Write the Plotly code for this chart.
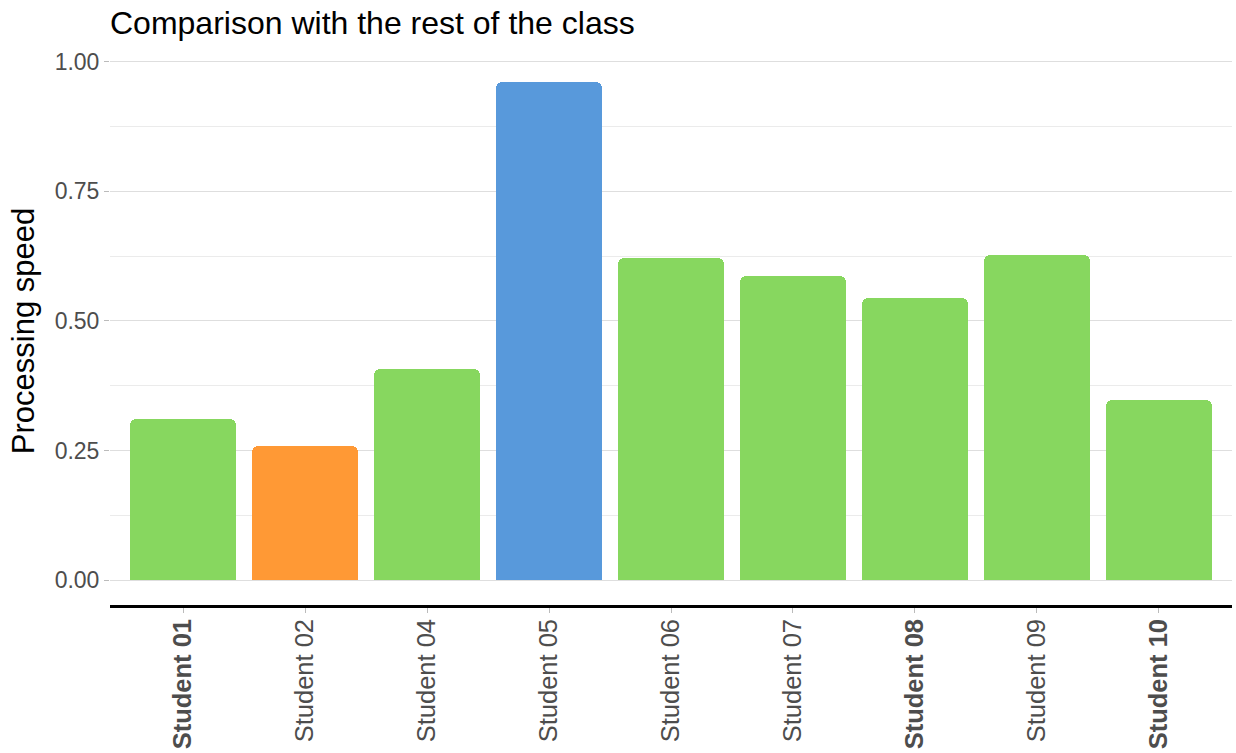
import plotly.graph_objects as go

students = ["Student 01", "Student 02", "Student 04", "Student 05", "Student 06",
            "Student 07", "Student 08", "Student 09", "Student 10"]
speed = [0.311, 0.259, 0.407, 0.961, 0.622, 0.587, 0.544, 0.627, 0.347]
bold_labels = ["Student 01", "Student 08", "Student 10"]
bar_colors = ["#87D75F", "#FF9935", "#87D75F", "#5899DB", "#87D75F",
              "#87D75F", "#87D75F", "#87D75F", "#87D75F"]

ticktext = [f"<b>{s}</b>" if s in bold_labels else s for s in students]
xpos = list(range(len(students)))

FONT = "Liberation Sans, Arial, Helvetica, sans-serif"

fig = go.Figure()
fig.add_trace(go.Bar(
    x=xpos, y=speed, width=0.87,
    marker=dict(color=bar_colors, line=dict(width=0), cornerradius=6),
    showlegend=False, hoverinfo="x+y",
))

fig.update_layout(
    width=1236, height=753,
    paper_bgcolor="white", plot_bgcolor="white",
    margin=dict(l=110, r=4, t=57, b=148),
    font=dict(family=FONT, color="#4D4D4D", size=23),
    title=dict(text="Comparison with the rest of the class", x=110/1236, xanchor="left",
               y=1 - 23/753, yanchor="middle",
               font=dict(size=32, color="black", family=FONT)),
    bargap=0,
)
fig.update_xaxes(
    range=[-0.6, 8.6], tickmode="array", tickvals=xpos, ticktext=ticktext,
    tickangle=-90, ticks="outside", ticklen=5, tickcolor="#BBBBBB", tickwidth=1,
    ticklabelstandoff=-4,
    showline=True, linecolor="black", linewidth=2.5, showgrid=False, zeroline=False,
    tickfont=dict(size=25.5, color="#4D4D4D"), automargin=False,
)
fig.update_yaxes(
    range=[-0.048, 1.009], tickmode="array", tickvals=[0, 0.25, 0.5, 0.75, 1.0],
    ticktext=["0.00", "0.25", "0.50", "0.75", "1.00"],
    ticks="outside", ticklen=5, tickcolor="#BBBBBB", tickwidth=1,
    showgrid=True, gridcolor="#DEDEDE", gridwidth=1, zeroline=False, showline=False,
    minor=dict(tickvals=[0.125, 0.375, 0.625, 0.875], showgrid=True, gridcolor="#EBEBEB", gridwidth=1, ticks=""),
    title=dict(text="Processing speed", font=dict(size=31, color="black"), standoff=10),
    tickfont=dict(size=23, color="#4D4D4D"), automargin=False,
)

fig.write_html("out.html", config={"displayModeBar": False},
               post_script="document.body.style.margin='0';")
